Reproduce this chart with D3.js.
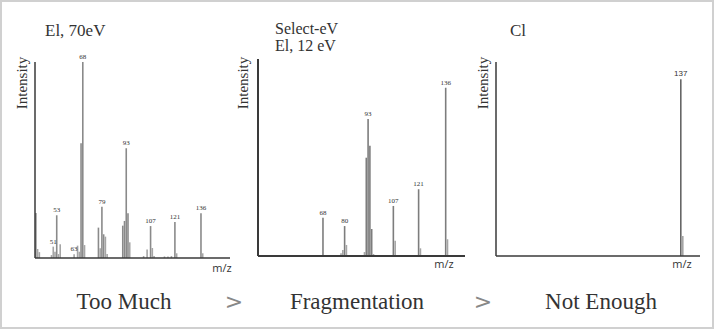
<!DOCTYPE html>
<html><head><meta charset="utf-8">
<script src="https://cdn.jsdelivr.net/npm/d3@7"></script>
<style>html,body{margin:0;padding:0;background:#fff;}svg{display:block;}</style>
</head><body>
<svg id="c" width="714" height="329"></svg>
<script>
// ---- data ----
const ei70MZ   = [41,42,43,50,51,52,53,54,55,63,65,66,67,68,69,77,78,79,80,81,82,91,92,93,94,95,103,105,107,108,109,115,117,119,121,122,136,137];
const ei70Int  = [23,4.6,3,1.5,5.8,3.2,21.8,2,7,1.9,6.3,3.2,58.5,100,6.6,15.5,5,26.2,12.1,10.9,2,16.5,18.9,56,22.8,8,1,4.3,16.3,5.1,1,0.8,0.8,1,18.4,2.4,22.8,2.4];
const ei70Labels = [51,53,63,68,79,93,107,121,136];

const ei12MZ   = [68,78,79,80,81,91,92,93,94,95,96,107,108,121,122,136,137];
const ei12Int  = [19.4,1.4,3,15.2,5.6,2,49.9,69.5,56,13.7,1,25.4,7.8,33.9,3.9,85.4,8.5];
const ei12Labels = [68,80,93,107,121,136];

const ciMZ     = [137,138];
const ciInt    = [91.1,10.3];
const ciLabels = [137];

const panelTitles = [["El, 70eV"],["Select-eV","El, 12 eV"],["Cl"]];
const bottomWords = ["Too Much","Fragmentation","Not Enough"];
const arrows = [">",">"];

const svg = d3.select("#c");
svg.append("rect").attr("x",1).attr("y",1).attr("width",712).attr("height",327)
  .attr("fill","#fff").attr("stroke","#d0d0d0").attr("stroke-width",2);

const panels = [
  {mz:ei70MZ, v:ei70Int, labels:ei70Labels, title:panelTitles[0], x0:35, x1:230, y0:258, y1:62, dom:[40.5,152.7], ylabX:27, titleX:45, titleY:[36], titleSize:17, labelFont:"Liberation Serif", labelSize:7, barColor:"#8a8a8a", axisW:1.5, mzX:222, mzY:272},
  {mz:ei12MZ, v:ei12Int, labels:ei12Labels, title:panelTitles[1], x0:258, x1:465, y0:256, y1:59, dom:[32,146.7], ylabX:248, titleX:275, titleY:[34,51], titleSize:16, labelFont:"Liberation Serif", labelSize:7, barColor:"#7d7d7d", axisW:2, mzX:444, mzY:268},
  {mz:ciMZ, v:ciInt, labels:ciLabels, title:panelTitles[2], x0:496, x1:700, y0:256, y1:62, dom:[44.6,146.6], ylabX:488, titleX:510, titleY:[36], titleSize:17, labelFont:"Liberation Sans", labelSize:8, barColor:"#666", axisW:1.5, mzX:682, mzY:268}
];

panels.forEach(p => {
  const x = d3.scaleLinear().domain(p.dom).range([p.x0, p.x1]);
  const y = d3.scaleLinear().domain([0,100]).range([p.y0, p.y1]);
  const g = svg.append("g");
  const data = p.mz.map((m,i)=>({m, v:p.v[i]}));
  g.selectAll("line.bar").data(data).enter().append("line")
    .attr("x1",d=>x(d.m)).attr("x2",d=>x(d.m))
    .attr("y1",y(0)).attr("y2",d=>y(d.v))
    .attr("stroke",d=> d.v>12 ? p.barColor : "#a5a5a5").attr("stroke-width",1.6);
  g.selectAll("text.pk").data(data.filter(d=>p.labels.includes(d.m))).enter().append("text")
    .attr("x",d=>x(d.m)).attr("y",d=>y(d.v)-3)
    .attr("text-anchor","middle").attr("font-family",p.labelFont)
    .attr("font-size",p.labelSize).attr("fill","#333").text(d=>d.m);
  // axes
  g.append("line").attr("x1",p.x0).attr("x2",p.x0).attr("y1",y(0)).attr("y2",y(100))
    .attr("stroke","#3a3a3a").attr("stroke-width",p.axisW);
  g.append("line").attr("x1",p.x0).attr("x2",p.x1).attr("y1",y(0)).attr("y2",y(0))
    .attr("stroke","#3a3a3a").attr("stroke-width",p.axisW);
  g.append("text").attr("transform",`translate(${p.ylabX},83) rotate(-90)`)
    .attr("text-anchor","middle").attr("font-family","Liberation Serif")
    .attr("font-size",15).attr("fill","#333").text("Intensity");
  g.append("text").attr("x",p.mzX).attr("y",p.mzY).attr("text-anchor","middle")
    .attr("font-family","Open Sans").attr("font-size",11).attr("fill","#333").text("m/z");
  p.title.forEach((t,i)=>{
    g.append("text").attr("x",p.titleX).attr("y",p.titleY[i])
      .attr("font-family","Liberation Serif").attr("font-size",p.titleSize).attr("fill","#333").text(t);
  });
});

const wordX = [124, 357, 601];
bottomWords.forEach((w,i)=>{
  svg.append("text").attr("x",wordX[i]).attr("y",309).attr("text-anchor","middle")
    .attr("font-family","Liberation Serif").attr("font-size",23).attr("fill","#333").text(w);
});
const arrowX = [234, 483];
arrows.forEach((a,i)=>{
  svg.append("text").attr("x",arrowX[i]).attr("y",309).attr("text-anchor","middle")
    .attr("font-family","DejaVu Sans").attr("font-size",22).attr("fill","#888").text(a);
});
</script>
</body></html>
